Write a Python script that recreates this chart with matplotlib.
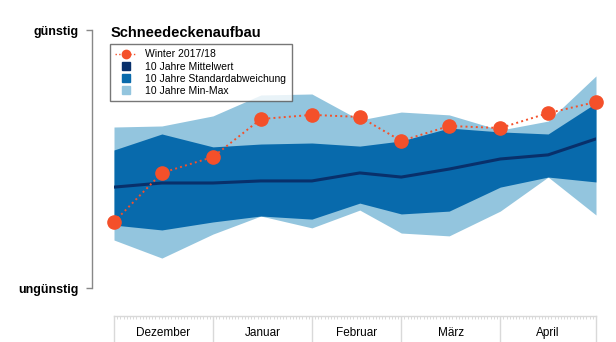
import numpy as np
import pandas as pd
import matplotlib
matplotlib.use("Agg")
import matplotlib.pyplot as plt
from matplotlib.lines import Line2D

plt.rcParams['font.family'] = ['Liberation Sans', 'DejaVu Sans']

# Stichtage: 1. und 16. jedes Monats
dates = ["2017-12-01", "2017-12-16", "2018-01-01", "2018-01-16", "2018-02-01", "2018-02-16",
         "2018-03-01", "2018-03-16", "2018-04-01", "2018-04-16", "2018-05-01"]

# Index: 0 = ungünstig, 100 = günstig
winter_1718 = [25.6, 44.6, 50.8, 65.5, 67.1, 66.3, 57.0, 62.8, 62.0, 67.8, 72.1]
mittelwert = [39.1, 40.7, 40.7, 41.5, 41.5, 44.6, 43.0, 46.1, 50.0, 51.6, 57.8]
std_oben = [53.5, 59.7, 54.7, 55.8, 56.2, 55.0, 57.0, 62.0, 60.5, 59.7, 71.7]
std_unten = [24.4, 22.5, 25.6, 27.9, 26.7, 32.9, 28.7, 29.8, 39.1, 43.0, 41.1]
max_10j = [62.4, 62.8, 66.7, 74.8, 75.2, 65.1, 68.2, 67.1, 61.2, 64.7, 82.2]
min_10j = [18.6, 11.6, 20.9, 27.9, 23.3, 30.2, 21.3, 20.2, 29.8, 43.0, 28.3]

months = ["Dezember", "Januar", "Februar", "März", "April"]
month_starts = ["2017-12-01", "2018-01-01", "2018-02-01", "2018-03-01", "2018-04-01", "2018-05-01"]

legend_labels = ["Winter 2017/18", "10 Jahre Mittelwert",
                 "10 Jahre Standardabweichung", "10 Jahre Min-Max"]

c_red = "#f4502a"
c_navy = "#08306b"
c_mid = "#086aac"
c_light = "#93c5de"
c_grid = "#d9d9d9"

# Tage seit 1. Dezember
start = pd.Timestamp(month_starts[0])
x = (pd.to_datetime(dates) - start).days.values
bounds = (pd.to_datetime(month_starts) - start).days.values

W, H = 616, 342
fig = plt.figure(figsize=(W / 100, H / 100), dpi=100)

# ---------------- Hauptdiagramm ----------------
ax = fig.add_axes([114 / W, 54 / H, 482 / W, 258 / H])
ax.fill_between(x, min_10j, max_10j, color=c_light, lw=0)
ax.fill_between(x, std_unten, std_oben, color=c_mid, lw=0)
ax.plot(x, mittelwert, color=c_navy, lw=2.2, solid_capstyle="round")
ax.plot(x, winter_1718, color=c_red, ls=":", lw=1.4, marker="o", ms=9.5,
        clip_on=False, zorder=5)

ax.set_xlim(bounds[0], bounds[-1])
ax.set_ylim(0, 100)
for s in ["top", "right", "bottom"]:
    ax.spines[s].set_visible(False)
ax.spines["left"].set_position(("outward", 22 * 72 / 100))
ax.spines["left"].set_color("#888888")
ax.spines["left"].set_linewidth(1.0)
ax.set_xticks([])
ax.set_yticks([0, 100], ["ungünstig", "günstig"], fontweight="bold", fontsize=9)
ax.tick_params(axis="y", length=4.3, width=1.0, color="#888888", pad=5)

fig.text(111 / W, 1 - 33 / H, "Schneedeckenaufbau", fontsize=10.5,
         fontweight="bold", ha="left", va="center")

handles = [
    Line2D([], [], color=c_red, ls=":", lw=1, marker="o", ms=6),
    Line2D([], [], color=c_navy, ls="none", marker="s", ms=5.5),
    Line2D([], [], color=c_mid, ls="none", marker="s", ms=5.5),
    Line2D([], [], color=c_light, ls="none", marker="s", ms=5.5),
]
leg = fig.legend(handles, legend_labels, loc="upper left",
                 bbox_to_anchor=(110 / W, 1 - 44 / H), borderaxespad=0,
                 frameon=True, fancybox=False, fontsize=7.5, handlelength=2.0,
                 handletextpad=0.9, labelspacing=0.22, borderpad=0.5)
leg.get_frame().set_edgecolor("#555555")
leg.get_frame().set_linewidth(1.0)

# ---------------- Monatsleiste ----------------
ax2 = fig.add_axes([114 / W, 0, 482 / W, 26 / H])
ax2.set_xlim(bounds[0], bounds[-1])
ax2.set_ylim(0, 1)
ax2.spines["bottom"].set_visible(False)
for s in ["top", "left", "right"]:
    ax2.spines[s].set_color(c_grid)
    ax2.spines[s].set_linewidth(1.0)
ax2.xaxis.set_ticks_position("top")
ax2.set_xticks([])
ax2.set_xticks(np.arange(bounds[0], bounds[-1] + 1), minor=True)
ax2.tick_params(axis="x", which="minor", direction="in", length=2.5,
                width=0.5, color="#cccccc")
ax2.set_yticks([])
for b in bounds[1:-1]:
    ax2.axvline(b, color=c_grid, lw=1.0)
for m, a, b in zip(months, bounds[:-1], bounds[1:]):
    ax2.text((a + b) / 2, 0.35, m, ha="center", va="center", fontsize=8.5)

fig.savefig("out.png", dpi=100)
